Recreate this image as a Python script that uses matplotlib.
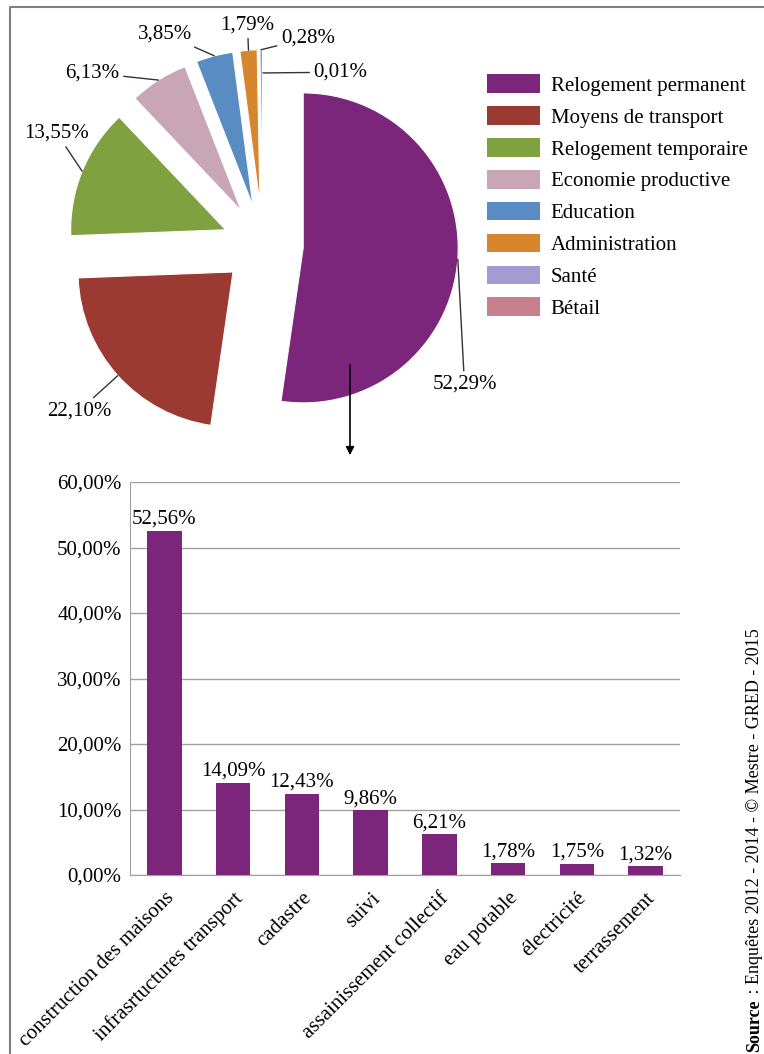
import numpy as np
import matplotlib
matplotlib.use("Agg")
import matplotlib.pyplot as plt
from matplotlib.lines import Line2D
from matplotlib.patches import Patch, FancyArrowPatch

plt.rcParams['font.family'] = ['Liberation Serif', 'DejaVu Serif']

# pie data
pie_labels = ['Relogement permanent', 'Moyens de transport', 'Relogement temporaire',
              'Economie productive', 'Education', 'Administration', 'Santé', 'Bétail']
pie_values = [52.29, 22.10, 13.55, 6.13, 3.85, 1.79, 0.28, 0.01]
pie_colors = ['#7B267B', '#9B3A32', '#7FA13F', '#C9A6B5', '#5A8CC4',
              '#D7862E', '#A49BD3', '#C8808E']
# label text positions (data units of pie axes, radius = 1) and alignment
pie_text_pos = [(1.30, -0.90), (-0.98, -1.07), (-1.33, 0.72), (-1.10, 1.11),
                (-0.63, 1.36), (-0.10, 1.42), (0.29, 1.335), (0.50, 1.115)]
pie_text_ha = ['center', 'right', 'center', 'center', 'center', 'center', 'center', 'center']

# bar data
bar_cats = ['construction des maisons', 'infrasrtuctures transport', 'cadastre', 'suivi',
            'assainissement collectif', 'eau potable', 'électricité', 'terrassement']
bar_values = [52.56, 14.09, 12.43, 9.86, 6.21, 1.78, 1.75, 1.32]

W, H = 764, 1054
fig = plt.figure(figsize=(W / 100, H / 100), dpi=100)

def fx(px):
    return px / W

def fy(py):
    return 1 - py / H

# frame
fig.add_artist(Line2D([fx(10), fx(10), 1.0], [0, fy(7), fy(7)],
                      color='#808080', lw=1.5, transform=fig.transFigure))

# ---- pie ----
scale = 155.0
cx, cy = 263, 245
ax_pie = fig.add_axes([0, fy(470), fx(530), 470 / H])
expl = 0.26
wedges, _ = ax_pie.pie(pie_values, colors=pie_colors, startangle=90, counterclock=False,
                       explode=[expl] * len(pie_values),
                       wedgeprops=dict(edgecolor='white', linewidth=0.8))
ax_pie.set_aspect('auto')
ax_pie.set_xlim((0 - cx) / scale, (530 - cx) / scale)
ax_pie.set_ylim((cy - 470) / scale, (cy - 0) / scale)
ax_pie.axis('off')

for i, (w, txt) in enumerate(zip(wedges, pie_values)):
    mid = np.deg2rad((w.theta1 + w.theta2) / 2)
    r = expl + (0.85 if i == 7 else 1.0)
    pt = (r * np.cos(mid), r * np.sin(mid))
    lab = f"{txt:.2f}%".replace('.', ',')
    ax_pie.annotate(lab, xy=pt, xytext=pie_text_pos[i], fontsize=15,
                    ha=pie_text_ha[i], va='center',
                    arrowprops=dict(arrowstyle='-', color='#333333', lw=1,
                                    shrinkA=1, shrinkB=0))

handles = [Patch(facecolor=c, edgecolor='none') for c in pie_colors]
fig.legend(handles, pie_labels, loc='upper left', bbox_to_anchor=(fx(479), fy(66)),
           frameon=False, fontsize=15, handlelength=2.55, handleheight=1.0,
           labelspacing=0.5, handletextpad=0.5, borderaxespad=0)

# arrow from pie to bars
fig.add_artist(FancyArrowPatch(
    (fx(350), fy(362)), (fx(350), fy(458)), transform=fig.transFigure,
    arrowstyle='-|>', mutation_scale=12, color='black', lw=1.2))

# ---- bars ----
ax = fig.add_axes([fx(130), fy(875), 550 / W, 393 / H])
x = np.arange(len(bar_cats))
ax.bar(x, bar_values, width=0.5, color='#7B267B', zorder=3)
ax.set_xlim(-0.5, len(bar_cats) - 0.5)
ax.set_ylim(0, 60)
ax.set_yticks(np.arange(0, 61, 10))
ax.set_yticklabels([f"{v:.2f}%".replace('.', ',') for v in np.arange(0, 61, 10)],
                   fontsize=15)
ax.yaxis.grid(True, color='#A0A0A0', lw=1, zorder=0)
for s in ['top', 'right']:
    ax.spines[s].set_visible(False)
for s in ['left', 'bottom']:
    ax.spines[s].set_color('#A0A0A0')
ax.tick_params(axis='y', length=0, pad=6)
ax.tick_params(axis='x', length=0, pad=10)
ax.set_xticks(x)
ax.set_xticklabels(bar_cats, rotation=45, ha='right', va='top', rotation_mode='anchor',
                   fontsize=15)
for xi, v in zip(x, bar_values):
    ax.text(xi, v + 0.3, f"{v:.2f}%".replace('.', ','), ha='center', va='bottom',
            fontsize=15)

# source text (rotated)
t1 = fig.text(fx(746), fy(1052), 'Source', rotation=90, ha='left', va='bottom',
              fontsize=13, fontweight='bold')
fig.canvas.draw()
bb = t1.get_window_extent()
fig.text(fx(746), (bb.y1 + 2) / H, ' : Enquêtes 2012 - 2014 - © Mestre - GRED - 2015',
         rotation=90, ha='left', va='bottom', fontsize=13)

fig.savefig('out.png', dpi=100)
